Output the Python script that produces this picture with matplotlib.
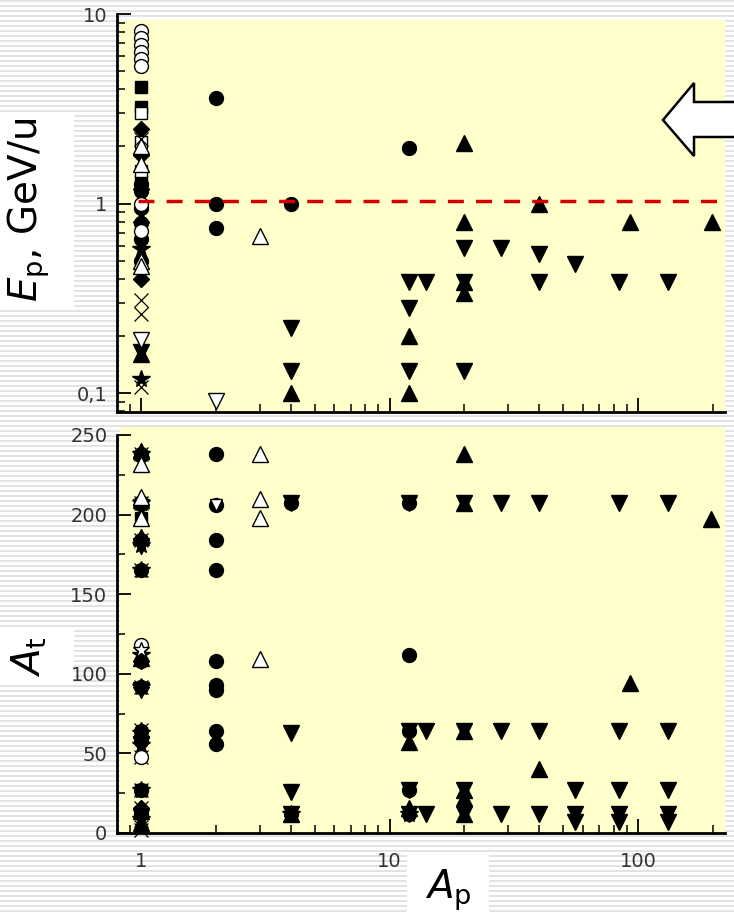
import numpy as np
import matplotlib
matplotlib.use("Agg")
import matplotlib.pyplot as plt
from matplotlib.patches import Rectangle, Polygon
from matplotlib.ticker import FixedLocator, FixedFormatter, NullFormatter

plt.rcParams["font.family"] = "DejaVu Sans"
plt.rcParams["mathtext.fontset"] = "dejavusans"

W, H = 734, 914  # figure size in px

# ---- top panel: projectile energy Ep (GeV/u) vs projectile mass Ap ----
e_ocirc_ap = [1, 1, 1, 1, 1, 1, 1, 1]
e_ocirc = [8.1, 7.5, 6.9, 6.3, 5.8, 5.3, 1.0, 0.72]
e_circ_ap = [1, 1, 1, 1, 1, 1, 2, 2, 2, 4, 12]
e_circ = [1.27, 1.16, 0.95, 0.79, 0.65, 0.50, 3.6, 1.0, 0.74, 1.0, 1.96]
e_sq_ap = [1, 1, 1]
e_sq = [4.1, 3.25, 1.3]
e_osq_ap = [1, 1, 1]
e_osq = [3.0, 2.1, 1.48]
e_diam_ap = [1, 1, 1, 1, 1]
e_diam = [2.47, 1.80, 1.2, 0.80, 0.40]
e_otri_ap = [1, 1, 1, 1, 3]
e_otri = [1.62, 2.0, 0.50, 0.47, 0.67]
e_cross_ap = [1, 1, 1, 1, 1]
e_cross = [2.2, 0.31, 0.26, 0.108, 0.85]
e_oinv_ap = [1, 2]
e_oinv = [0.19, 0.091]
e_tri_ap = [1, 4, 12, 12, 20, 20, 20, 20, 40, 93, 199]
e_tri = [0.16, 0.10, 0.20, 0.10, 2.08, 0.80, 0.385, 0.337, 1.0, 0.80, 0.80]
e_inv_ap = [1, 4, 4, 12, 12, 12, 14, 20, 20, 20, 28, 40, 40, 56, 84, 132]
e_inv = [0.165, 0.22, 0.13, 0.385, 0.28, 0.13, 0.385, 0.58, 0.385, 0.13,
         0.58, 0.54, 0.385, 0.48, 0.385, 0.385]
e_star_ap = [1, 1]
e_star = [0.118, 0.575]
e_threshold = 1.03

# ---- bottom panel: target mass At vs projectile mass Ap ----
t_circ_ap = [1, 1, 1, 1, 1, 1, 1, 1, 1, 1,
             2, 2, 2, 2, 2, 2, 2, 2, 2, 4, 4, 12, 12, 12, 12, 12]
t_circ = [238, 208, 184, 165, 108, 92, 64, 58, 27, 12,
          238, 206, 184, 165, 108, 93, 90, 64, 56, 207, 12, 207, 112, 64, 27, 12]
t_star_ap = [1, 1, 1, 1, 1, 1, 1, 1, 1, 1, 4, 12]
t_star = [238, 207, 181, 165, 112, 92, 63, 55, 27, 9, 12, 12]
t_diam_ap = [1, 1, 1, 1, 1, 1, 1]
t_diam = [236, 206, 184, 108, 92, 60, 16]
t_tri_ap = [1, 1, 1, 1, 1, 1, 1, 4, 12, 12, 20, 20, 20, 20, 20, 20, 40, 93, 197]
t_tri = [240, 209, 186, 110, 65, 14, 6, 12, 57, 16, 238, 207, 64, 27, 22, 12, 40, 94, 197]
t_inv_ap = [1, 1, 1, 1, 1, 1, 4, 4, 4, 4, 12, 12, 12, 12, 14, 14, 20, 20, 20, 20,
            28, 28, 28, 40, 40, 40, 56, 56, 56, 84, 84, 84, 84, 84,
            132, 132, 132, 132, 132]
t_inv = [235, 205, 180, 90, 56, 10, 207, 63, 26, 12, 207, 64, 27, 12, 64, 12,
         207, 64, 27, 12, 207, 64, 12, 207, 64, 12, 27, 12, 7, 207, 64, 27, 12, 7,
         207, 64, 27, 12, 7]
t_cross_ap = [1, 1, 1, 1, 1, 1, 1, 1, 1, 1, 1, 1]
t_cross = [238, 207, 184, 165, 92, 65, 48, 27, 16, 8, 4, 2]
t_otri_ap = [1, 1, 1, 3, 3, 3, 3]
t_otri = [232, 211, 198, 238, 210, 198, 109]
t_ocirc_ap = [1, 1]
t_ocirc = [118, 48]
t_ostar_ap = [1]
t_ostar = [115]
t_sq_ap = [1, 1]
t_sq = [198, 27]
t_oinv_ap = [2]
t_oinv = [206]

BLACK = "black"
WHITE = "white"
top_series = [
    (e_circ_ap, e_circ, "o", 10, BLACK),
    (e_sq_ap, e_sq, "s", 9, BLACK),
    (e_diam_ap, e_diam, "D", 8, BLACK),
    (e_tri_ap, e_tri, "^", 11, BLACK),
    (e_inv_ap, e_inv, "v", 11, BLACK),
    (e_star_ap, e_star, "*", 13, BLACK),
    (e_ocirc_ap, e_ocirc, "o", 10, WHITE),
    (e_osq_ap, e_osq, "s", 9, WHITE),
    (e_otri_ap, e_otri, "^", 11, WHITE),
    (e_oinv_ap, e_oinv, "v", 11, WHITE),
    (e_cross_ap, e_cross, "x", 10, None),
]
bottom_series = [
    (t_circ_ap, t_circ, "o", 10, BLACK),
    (t_star_ap, t_star, "*", 13, BLACK),
    (t_diam_ap, t_diam, "D", 8, BLACK),
    (t_tri_ap, t_tri, "^", 11, BLACK),
    (t_inv_ap, t_inv, "v", 11, BLACK),
    (t_sq_ap, t_sq, "s", 9, BLACK),
    (t_cross_ap, t_cross, "x", 10, None),
    (t_otri_ap, t_otri, "^", 11, WHITE),
    (t_ocirc_ap, t_ocirc, "o", 10, WHITE),
    (t_ostar_ap, t_ostar, "*", 12, WHITE),
    (t_oinv_ap, t_oinv, "v", 8, WHITE),
]


def px_box(x0, y0, x1, y1, **kw):
    # rectangle given in figure pixels (y downwards)
    return Rectangle((x0 / W, 1 - y1 / H), (x1 - x0) / W, (y1 - y0) / H,
                     transform=fig.transFigure, **kw)


fig = plt.figure(figsize=(W / 100, H / 100), dpi=100)

# striped grey background
bg = fig.add_axes([0, 0, 1, 1], zorder=-5)
rows = np.arange(H)
stripes = np.where(rows % 5 < 2, 0.89, 1.0)
bg.imshow(np.repeat(stripes[:, None], 4, axis=1), cmap="gray", vmin=0, vmax=1,
          aspect="auto", extent=[0, 1, 0, 1], interpolation="nearest")
bg.set_axis_off()
bg.add_patch(px_box(120, 20, 725, 412, facecolor="#ffffcc", edgecolor="none"))
bg.add_patch(px_box(120, 427, 725, 834, facecolor="#ffffcc", edgecolor="none"))
bg.add_patch(px_box(0, 115, 74, 307, facecolor="white", edgecolor="none"))
bg.add_patch(px_box(0, 630, 74, 685, facecolor="white", edgecolor="none"))
bg.add_patch(px_box(407, 855, 489, 914, facecolor="white", edgecolor="none"))

left, width = 117 / W, (725 - 117) / W
ax1 = fig.add_axes([left, 1 - 412 / H, width, 398 / H])
ax2 = fig.add_axes([left, 1 - 833 / H, width, 398 / H])


def draw(ax, series):
    for xs, ys, m, ms, face in series:
        if face is None:
            ax.plot(xs, ys, ls="none", marker=m, ms=ms, color="black", mew=0.9,
                    clip_on=False, zorder=3)
        else:
            ax.plot(xs, ys, ls="none", marker=m, ms=ms, mfc=face, mec="black",
                    mew=1.0, clip_on=False, zorder=3)


draw(ax1, top_series)
draw(ax2, bottom_series)
ax1.plot([0.97, 224], [e_threshold, e_threshold], color="#d40000", lw=2.5,
         dashes=(4.6, 3.5), zorder=4)

for ax in (ax1, ax2):
    ax.set_facecolor("none")
    ax.set_xscale("log")
    ax.set_xlim(0.80, 224)
    ax.spines["top"].set_visible(False)
    ax.spines["right"].set_visible(False)
    ax.spines["left"].set_linewidth(2)
    ax.spines["bottom"].set_linewidth(2)
    ax.xaxis.set_major_locator(FixedLocator([1, 10, 100]))
    ax.xaxis.set_minor_locator(FixedLocator(
        [0.9] + [k * d for d in (1, 10) for k in range(2, 10)] + [200]))
    ax.xaxis.set_minor_formatter(NullFormatter())
    ax.tick_params(which="major", direction="in", length=10, width=1.3,
                   labelsize=14, labelcolor="#333333", pad=7)
    ax.tick_params(which="minor", direction="in", length=5.5, width=1.1)

ax1.set_yscale("log")
ax1.set_ylim(0.0794, 10)
ax1.yaxis.set_major_locator(FixedLocator([0.1, 1, 10]))
ax1.yaxis.set_major_formatter(FixedFormatter(["0,1", "1", "10"]))
ax1.yaxis.set_minor_locator(FixedLocator(
    [0.08, 0.09] + [k * d for d in (0.1, 1) for k in range(2, 10)]))
ax1.yaxis.set_minor_formatter(NullFormatter())
ax1.tick_params(axis="x", labelbottom=False)

ax2.set_ylim(0, 250)
ax2.yaxis.set_major_locator(FixedLocator([0, 50, 100, 150, 200, 250]))
ax2.yaxis.set_minor_locator(FixedLocator([25, 75, 125, 175, 225]))
ax2.xaxis.set_major_formatter(FixedFormatter(["1", "10", "100"]))
ax2.tick_params(axis="x", which="major", pad=14)

fig.text(29 / W, 1 - 210 / H, r"$E_\mathrm{p}$, GeV/u", rotation=90,
         ha="center", va="center", fontsize=28)
fig.text(29 / W, 1 - 657 / H, r"$A_\mathrm{t}$", rotation=90,
         ha="center", va="center", fontsize=28)
fig.text(448 / W, 1 - 890 / H, r"$A_\mathrm{p}$",
         ha="center", va="center", fontsize=28)

# white block arrow pointing left, top right corner
arrow_px = [(663, 120), (694, 83), (694, 102), (740, 102), (740, 137),
            (694, 137), (694, 156)]
fig.patches.append(Polygon([(x / W, 1 - y / H) for x, y in arrow_px], closed=True,
                           facecolor="white", edgecolor="black", lw=1.8,
                           transform=fig.transFigure, zorder=10))

fig.savefig("out.png", dpi=100)
